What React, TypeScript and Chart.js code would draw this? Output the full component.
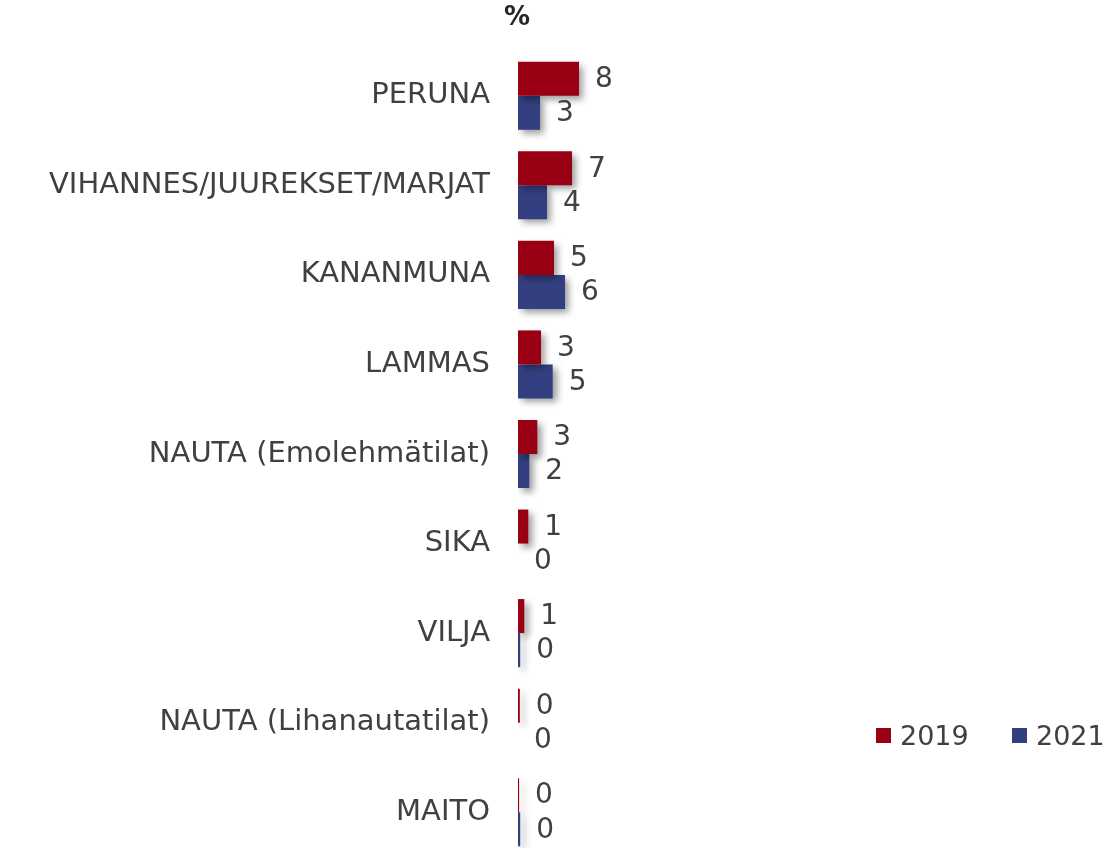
import React, { useEffect, useRef } from "react";
import { Chart, registerables } from "chart.js";

Chart.register(...registerables);

const categories = [
  "PERUNA",
  "VIHANNES/JUUREKSET/MARJAT",
  "KANANMUNA",
  "LAMMAS",
  "NAUTA (Emolehmätilat)",
  "SIKA",
  "VILJA",
  "NAUTA (Lihanautatilat)",
  "MAITO",
];
const values2019 = [8.3, 7.35, 4.9, 3.13, 2.63, 1.4, 0.86, 0.25, 0.15];
const values2021 = [3.0, 3.95, 6.4, 4.72, 1.54, 0, 0.3, 0, 0.3];
const seriesLabels = ["2019", "2021"];
const seriesColors = ["#990014", "#333F80"];
const unitLabel = "%";

const FONT = "'DejaVu Sans', Verdana, sans-serif";

const shadowPlugin = {
  id: "barShadow",
  beforeDatasetsDraw(chart: any) {
    const ctx = chart.ctx;
    ctx.save();
    ctx.shadowColor = "rgba(0,0,0,0.4)";
    ctx.shadowBlur = 7;
    ctx.shadowOffsetX = 4;
    ctx.shadowOffsetY = 4;
  },
  afterDatasetsDraw(chart: any) {
    chart.ctx.restore();
  },
};

const labelPlugin = {
  id: "valueLabels",
  afterDraw(chart: any) {
    const ctx = chart.ctx;
    ctx.save();
    ctx.font = `28px ${FONT}`;
    ctx.fillStyle = "#404040";
    ctx.textAlign = "left";
    ctx.textBaseline = "middle";
    chart.data.datasets.forEach((ds: any, di: number) => {
      const meta = chart.getDatasetMeta(di);
      meta.data.forEach((bar: any, i: number) => {
        const v = ds.data[i] as number;
        ctx.fillText(String(Math.round(v)), bar.x + 16, bar.y + 1);
      });
    });
    const x0 = chart.scales.x.getPixelForValue(0);
    ctx.font = `bold 26px ${FONT}`;
    ctx.fillStyle = "#262626";
    ctx.textAlign = "center";
    ctx.fillText(unitLabel, x0 - 1, 18);
    ctx.restore();
  },
};

export default function App() {
  const ref = useRef<HTMLCanvasElement | null>(null);
  useEffect(() => {
    if (!ref.current) return;
    const chart = new Chart(ref.current, {
      type: "bar",
      data: {
        labels: categories,
        datasets: [
          {
            label: seriesLabels[0],
            data: values2019,
            backgroundColor: seriesColors[0],
            barPercentage: 1,
            categoryPercentage: 0.76,
          },
          {
            label: seriesLabels[1],
            data: values2021,
            backgroundColor: seriesColors[1],
            barPercentage: 1,
            categoryPercentage: 0.76,
          },
        ],
      },
      options: {
        indexAxis: "y",
        responsive: false,
        animation: false,
        layout: { padding: { top: 51, bottom: 3, left: 0, right: 445 } },
        plugins: {
          legend: { display: false },
          tooltip: { enabled: false },
          title: { display: false },
        },
        scales: {
          x: {
            display: false,
            min: 0,
            max: 20,
            grid: { display: false },
          },
          y: {
            grid: { display: false, drawTicks: false },
            border: { display: false },
            afterFit: (scale: any) => {
              scale.width = 518;
              scale.paddingTop = 0;
              scale.paddingBottom = 0;
            },
            ticks: {
              padding: 28,
              color: "#404040",
              font: { family: FONT, size: 29 },
            },
          },
        },
      },
      plugins: [shadowPlugin, labelPlugin],
    });
    return () => chart.destroy();
  }, []);

  const legendItem = (label: string, color: string, left: number) => (
    <div
      style={{
        position: "absolute",
        left,
        top: 716,
        height: 38,
        display: "flex",
        alignItems: "center",
        fontFamily: FONT,
        fontSize: 27,
        color: "#404040",
        whiteSpace: "nowrap",
      }}
    >
      <span
        style={{
          display: "inline-block",
          width: 15,
          height: 15,
          background: color,
          marginRight: 9,
        }}
      />
      {label}
    </div>
  );

  return (
    <div
      style={{
        position: "fixed",
        left: 0,
        top: 0,
        width: 1110,
        height: 860,
        background: "#ffffff",
      }}
    >
      <canvas ref={ref} width={1110} height={860} style={{ display: "block" }} />
      {legendItem(seriesLabels[0], seriesColors[0], 876)}
      {legendItem(seriesLabels[1], seriesColors[1], 1012)}
    </div>
  );
}
